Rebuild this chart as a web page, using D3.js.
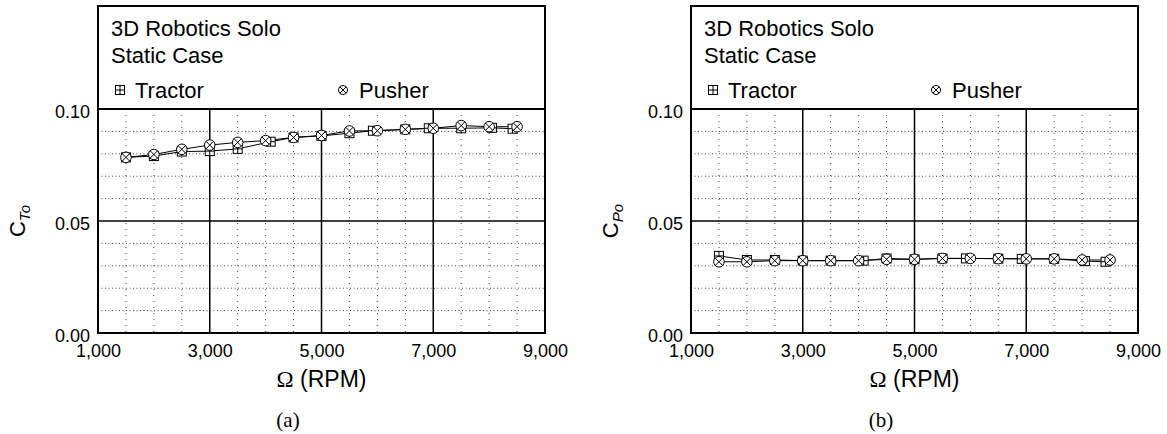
<!DOCTYPE html>
<html lang="en">
<head>
<meta charset="UTF-8">
<title>3D Robotics Solo - Static Case</title>
<script src="https://d3js.org/d3.v7.min.js"></script>
<style>
    body { margin: 0; background: #fff; font-family: "Liberation Sans", Arial, sans-serif; }
    .minor { stroke: #444; stroke-width: 1; }
    .major { stroke: #000; stroke-width: 1.5; }
</style>
</head>
<body>
<div id="chart"></div>
<script>
// data
var rpmPusher  = [1500, 2000, 2500, 3000, 3500, 4000, 4500, 5000, 5500, 6000, 6500, 7000, 7500, 8000, 8500];
var rpmTractor = [1500, 2000, 2500, 3000, 3500, 4090, 4500, 5000, 5500, 5920, 6500, 6920, 7500, 8050, 8420];

var ctTractor = [0.0784, 0.0790, 0.0810, 0.0812, 0.0822, 0.0854, 0.0873, 0.0880, 0.0892, 0.0903, 0.0909, 0.0914, 0.0914, 0.0916, 0.0912];
var ctPusher  = [0.0784, 0.0797, 0.0820, 0.0839, 0.0851, 0.0859, 0.0873, 0.0882, 0.0902, 0.0903, 0.0909, 0.0914, 0.0926, 0.0921, 0.0921];

var cpTractor = [0.0344, 0.0326, 0.0326, 0.0323, 0.0323, 0.0323, 0.0333, 0.0329, 0.0333, 0.0333, 0.0332, 0.0331, 0.0331, 0.0321, 0.0318];
var cpPusher  = [0.0318, 0.0318, 0.0323, 0.0323, 0.0323, 0.0323, 0.0329, 0.0329, 0.0333, 0.0333, 0.0332, 0.0331, 0.0331, 0.0326, 0.0326];

var xMajor = [1000, 3000, 5000, 7000, 9000];
var xMinor = [1500, 2000, 2500, 3500, 4000, 4500, 5500, 6000, 6500, 7500, 8000, 8500];
var yMajor = [0, 0.05, 0.10];
var yMinor = [0.01, 0.02, 0.03, 0.04, 0.06, 0.07, 0.08, 0.09];
var titleLines = ["3D Robotics Solo", "Static Case"];
var seriesNames = ["Tractor", "Pusher"];

var W = 1167, H = 434;
var svg = d3.select("#chart").append("svg")
    .attr("width", W).attr("height", H);

// marker drawing helpers
function squarePlus(g, s) {
    g.append("rect").attr("x", -s / 2).attr("y", -s / 2).attr("width", s).attr("height", s)
        .attr("fill", "#fff").attr("stroke", "#000").attr("stroke-width", 1);
    g.append("path").attr("d", "M" + (-s / 2) + ",0H" + (s / 2) + "M0," + (-s / 2) + "V" + (s / 2))
        .attr("stroke", "#000").attr("stroke-width", 1);
}
function circleX(g, r) {
    var k = r * 0.707;
    g.append("circle").attr("r", r).attr("fill", "#fff").attr("stroke", "#000").attr("stroke-width", 1);
    g.append("path").attr("d", "M" + (-k) + "," + (-k) + "L" + k + "," + k + "M" + (-k) + "," + k + "L" + k + "," + (-k))
        .attr("stroke", "#000").attr("stroke-width", 1);
}

function drawPanel(left, yName, tractor, pusher, caption) {
    var right = left + 447, top = 6, yTop = 109, bottom = 333;
    var g = svg.append("g");

    var x = d3.scaleLinear().domain([1000, 9000]).range([left, right]);
    var y = d3.scaleLinear().domain([0, 0.10]).range([bottom, yTop]);

    // minor grid (dotted)
    g.selectAll(".vminor").data(xMinor).enter().append("line")
        .attr("class", "minor")
        .attr("x1", function (d) { return x(d); }).attr("x2", function (d) { return x(d); })
        .attr("y1", yTop).attr("y2", bottom)
        .attr("stroke-dasharray", "1,5");
    g.selectAll(".hminor").data(yMinor).enter().append("line")
        .attr("class", "minor")
        .attr("x1", left).attr("x2", right)
        .attr("y1", function (d) { return y(d); }).attr("y2", function (d) { return y(d); })
        .attr("stroke-dasharray", "1,2.5");

    // major grid
    g.selectAll(".vmajor").data(xMajor.slice(1, -1)).enter().append("line")
        .attr("class", "major")
        .attr("x1", function (d) { return x(d); }).attr("x2", function (d) { return x(d); })
        .attr("y1", yTop).attr("y2", bottom);
    g.append("line").attr("class", "major")
        .attr("x1", left).attr("x2", right).attr("y1", y(0.05)).attr("y2", y(0.05));

    // frame + legend box
    g.append("rect").attr("x", left).attr("y", top).attr("width", right - left).attr("height", bottom - top)
        .attr("fill", "none").attr("stroke", "#000").attr("stroke-width", 2);
    g.append("line").attr("x1", left).attr("x2", right).attr("y1", yTop).attr("y2", yTop)
        .attr("stroke", "#000").attr("stroke-width", 1.8);

    // axes
    var xAxis = d3.axisBottom(x).tickValues(xMajor).tickSize(0).tickPadding(11)
        .tickFormat(d3.format(","));
    var ax = g.append("g").attr("transform", "translate(0," + bottom + ")").call(xAxis);
    ax.select(".domain").remove();
    ax.selectAll("text").attr("font-size", 18).attr("font-family", "Liberation Sans, Arial, sans-serif").attr("fill", "#000");

    var yAxis = d3.axisLeft(y).tickValues(yMajor).tickSize(0).tickPadding(8)
        .tickFormat(d3.format(".2f"));
    var ay = g.append("g").attr("transform", "translate(" + left + ",0)").call(yAxis);
    ay.select(".domain").remove();
    ay.selectAll("text").attr("font-size", 18).attr("font-family", "Liberation Sans, Arial, sans-serif")
        .attr("fill", "#000").attr("dy", "0.45em");

    // series lines
    var line = d3.line().x(function (d) { return x(d[0]); }).y(function (d) { return y(d[1]); });
    var tData = d3.zip(rpmTractor, tractor), pData = d3.zip(rpmPusher, pusher);
    g.append("path").datum(tData).attr("d", line).attr("fill", "none").attr("stroke", "#000").attr("stroke-width", 1);
    g.append("path").datum(pData).attr("d", line).attr("fill", "none").attr("stroke", "#000").attr("stroke-width", 1);

    g.selectAll(".tm").data(tData).enter().append("g")
        .attr("transform", function (d) { return "translate(" + x(d[0]) + "," + y(d[1]) + ")"; })
        .each(function () { squarePlus(d3.select(this), 9); });
    g.selectAll(".pm").data(pData).enter().append("g")
        .attr("transform", function (d) { return "translate(" + x(d[0]) + "," + y(d[1]) + ")"; })
        .each(function () { circleX(d3.select(this), 5.3); });

    // legend text
    g.selectAll(".title").data(titleLines).enter().append("text")
        .attr("x", left + 13).attr("y", function (d, i) { return 36 + i * 27; })
        .attr("font-size", 22).text(function (d) { return d; });
    squarePlus(g.append("g").attr("transform", "translate(" + (left + 22) + ",90)"), 9);
    circleX(g.append("g").attr("transform", "translate(" + (left + 245) + ",90)"), 4.5);
    g.append("text").attr("x", left + 37).attr("y", 98).attr("font-size", 22).text(seriesNames[0]);
    g.append("text").attr("x", left + 261).attr("y", 98).attr("font-size", 22).text(seriesNames[1]);

    // axis titles
    var xt = g.append("text").attr("x", (left + right) / 2).attr("y", 387)
        .attr("text-anchor", "middle").attr("font-size", 23);
    xt.append("tspan").attr("font-family", "Liberation Serif, serif").text("\u03A9");
    xt.append("tspan").text(" (RPM)");

    var yt = g.append("text").attr("transform", "translate(" + (left - 73) + ",221) rotate(-90)")
        .attr("text-anchor", "middle").attr("font-size", 22);
    yt.append("tspan").text("C");
    yt.append("tspan").attr("font-size", 15).attr("font-style", "italic").attr("dy", 5).text(yName);

    // caption
    g.append("text").attr("x", left + 190).attr("y", 427).attr("text-anchor", "middle")
        .attr("font-family", "Liberation Serif, serif").attr("font-size", 21).text(caption);
}

drawPanel(98, "To", ctTractor, ctPusher, "(a)");
drawPanel(691, "Po", cpTractor, cpPusher, "(b)");
</script>
</body>
</html>
